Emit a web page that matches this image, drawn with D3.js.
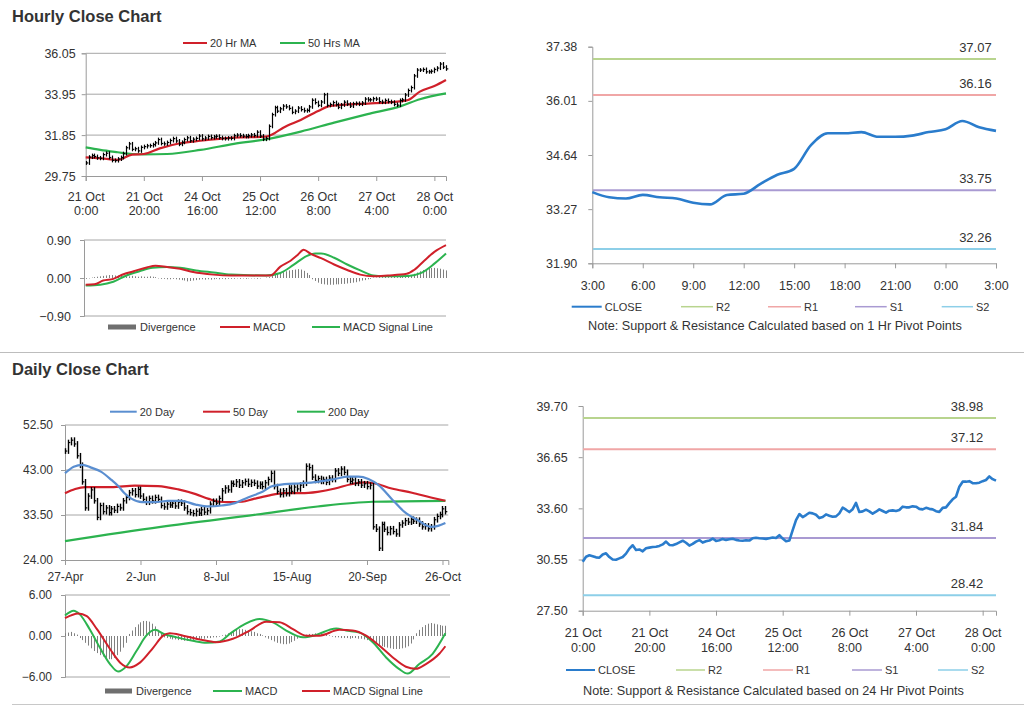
<!DOCTYPE html>
<html><head><meta charset="utf-8">
<script src="https://cdn.jsdelivr.net/npm/d3@7"></script>
<style>
body{margin:0;background:#fff}
svg{display:block}
text{font-family:"Liberation Sans",Arial,sans-serif;fill:#333}
</style>
</head><body>
<svg id="c" width="1024" height="706"></svg>
<script>
// ---------------- DATA ----------------
const hourTickLabels = [["21 Oct","0:00"],["21 Oct","20:00"],["24 Oct","16:00"],["25 Oct","12:00"],["26 Oct","8:00"],["27 Oct","4:00"],["28 Oct","0:00"]];
const hourlyClose = [
30.42,30.72,30.80,30.75,30.68,30.66,30.85,30.92,30.70,30.55,
30.54,30.62,30.70,30.90,31.20,31.40,31.12,31.15,31.04,31.22,
31.26,31.30,31.31,31.36,31.45,31.62,31.42,31.40,31.47,31.57,
31.67,31.55,31.38,31.48,31.62,31.71,31.56,31.64,31.68,31.80,
31.66,31.70,31.78,31.72,31.76,31.79,31.72,31.68,31.67,31.70,
31.68,31.82,31.85,31.82,31.80,31.78,31.82,31.86,31.83,32.00,
31.80,31.64,31.68,32.30,32.90,33.26,33.08,33.20,33.34,33.30,
33.22,33.02,33.08,33.24,33.16,33.10,33.12,33.30,33.64,33.52,
33.38,33.55,33.92,33.38,33.42,33.52,33.42,33.28,33.40,33.54,
33.44,33.34,33.46,33.48,33.44,33.50,33.70,33.66,33.66,33.72,
33.70,33.57,33.54,33.63,33.57,33.54,33.43,33.39,33.63,33.66,
33.91,34.14,34.29,34.89,35.19,35.19,35.22,35.10,35.10,35.13,
35.22,35.29,35.50,35.34,35.25];
// [hour index, value]
const ma20Hr = [[0,30.71],[5,30.66],[11,30.58],[16,30.85],[20,30.88],[25.5,31.17],[32.5,31.43],[39.5,31.56],[51,31.72],[62,31.77],[65,31.95],[68,32.23],[74,32.63],[80,33.09],[84,33.34],[91,33.43],[97,33.47],[108,33.58],[111,33.65],[115,34.08],[120,34.37],[124,34.68]];
const ma50Hr = [[0,31.22],[5,31.09],[11,30.97],[16,30.88],[20,30.86],[28,30.88],[39.5,31.09],[51,31.40],[62,31.63],[74,32.03],[85.5,32.49],[97,32.93],[108.5,33.34],[115,33.69],[124,33.99]];
const hourlyMacd = [[0,-0.16],[3,-0.15],[6,-0.06],[9.5,-0.02],[13,0.09],[16.5,0.16],[21,0.25],[24,0.29],[28,0.26],[32.5,0.22],[37,0.14],[44,0.08],[50,0.06],[56,0.06],[63.5,0.06],[67,0.27],[70.5,0.41],[73,0.55],[75,0.67],[77.5,0.57],[81,0.47],[85.5,0.32],[90,0.19],[94.5,0.08],[99,0.04],[104,0.06],[110.5,0.10],[113,0.19],[116.5,0.41],[120,0.62],[124,0.78]];
const hourlySignal = [[0,-0.18],[5,-0.16],[9.5,-0.09],[14,0.06],[18.5,0.16],[23,0.24],[28,0.26],[32.5,0.24],[38,0.18],[44,0.13],[50,0.08],[62,0.06],[67,0.12],[71.5,0.31],[76,0.52],[79,0.58],[81,0.58],[85.5,0.48],[90,0.32],[94.5,0.18],[99,0.06],[104,0.04],[111,0.05],[115.5,0.12],[120,0.34],[124,0.58]];
const hourlyDivergence = [
-0.02,-0.01,0.01,0.02,0.03,
0.04,0.05,0.06,0.07,0.07,0.06,0.06,0.05,
0.05,0.04,0.04,0.05,0.04,0.03,0.04,0.03,0.03,0.04,0.03,0.02,
-0.01,-0.02,-0.02,-0.03,-0.03,-0.02,-0.03,-0.04,-0.05,-0.06,
-0.08,-0.07,-0.06,-0.05,-0.04,-0.03,
-0.04,-0.03,-0.04,-0.03,-0.02,-0.03,-0.02,-0.03,-0.02,-0.02,-0.02,-0.01,-0.02,-0.01,-0.02,-0.01,-0.01,-0.01,-0.02,-0.01,0.00,0.01,0.02,
0.05,0.08,0.10,0.12,0.14,0.16,0.18,0.19,0.20,0.21,0.20,0.17,0.12,0.07,
-0.03,-0.07,-0.11,-0.14,-0.15,-0.16,-0.16,-0.16,-0.15,-0.15,-0.14,-0.14,-0.13,-0.12,-0.11,-0.10,-0.08,-0.06,-0.05,-0.03,-0.02,
0.01,0.01,0.02,0.02,0.03,0.02,0.02,0.03,0.02,0.03,0.03,0.04,
0.05,0.07,0.10,0.13,0.16,0.19,0.21,0.23,0.24,0.24,0.23,0.22,0.20,0.18];

const lastDayHourLabels = ["3:00","6:00","9:00","12:00","15:00","18:00","21:00","0:00","3:00"];
const pivotNames = ["R2","R1","S1","S2"];
const pivot1HrValues = [37.07,36.16,33.75,32.26];
const pivot24HrValues = [38.98,37.12,31.84,28.42];

const dailyTickLabels = ["27-Apr","2-Jun","8-Jul","15-Aug","20-Sep","26-Oct"];
const dailyClose = [
47.0,48.8,49.3,48.5,46.0,44.0,40.5,35.0,37.5,38.8,
36.5,33.0,35.5,34.2,35.0,34.0,34.8,34.5,35.3,35.0,
36.5,37.2,38.2,38.6,37.8,38.9,37.5,36.8,36.2,37.0,
36.5,37.2,36.8,35.5,35.2,35.8,35.6,36.0,35.4,36.2,
36.0,35.0,34.2,34.0,33.8,34.3,33.9,34.6,34.1,34.4,
35.8,36.4,36.0,37.0,38.6,39.2,38.8,40.2,40.0,40.5,
39.8,40.3,40.6,40.0,40.4,40.2,39.6,40.0,39.5,40.3,
41.0,42.3,39.5,38.5,37.8,38.6,38.0,39.2,38.5,39.4,
39.0,39.8,40.2,43.8,43.5,41.5,40.8,41.2,40.6,41.0,
40.4,41.3,41.0,42.8,42.3,43.2,42.5,41.0,40.6,40.9,
40.2,40.5,39.8,40.1,39.5,39.8,31.0,30.5,26.5,31.5,
30.5,29.8,30.6,30.0,29.5,31.4,31.8,32.3,32.0,32.6,
32.2,32.4,31.6,31.0,31.2,30.6,31.0,32.5,33.2,33.6,
34.8,34.2];
const ma20Day = [[0,42.3],[3,43.7],[6,44.1],[9,43.5],[12.5,42.6],[16,40.9],[18.5,39.5],[20.5,38.1],[23,36.9],[26.5,36.2],[31,36.2],[35.5,36.5],[40,36.5],[45,35.7],[49.5,35.3],[54,35.5],[58.5,36.0],[63,37.2],[66,37.9],[68,38.4],[71,39.5],[75.5,40.0],[81.5,40.2],[87,40.5],[93,41.1],[97.5,41.6],[101,41.6],[104.5,41.1],[108,39.8],[112.5,36.9],[117,34.1],[121.5,32.4],[126,31.0],[128.5,31.2],[131,31.8]];
const ma50Day = [[0,38.1],[3.5,39.0],[7,39.4],[16,39.4],[24,39.7],[32,39.6],[39,38.9],[45,37.9],[49.5,36.9],[53,36.3],[56,36.2],[61,36.3],[65,36.9],[70,37.6],[75.5,38.1],[81.5,38.1],[87,38.4],[93,39.1],[98.5,40.0],[103,40.4],[106.5,40.2],[112.5,39.1],[119.5,38.2],[126,37.2],[131,36.5]];
const ma200Day = [[0,28.0],[33,31.0],[66,33.6],[87,35.3],[106,36.3],[131,36.5]];
const dailyMacd = [[0,3.0],[3,3.7],[5,3.2],[8.5,1.0],[12,-1.7],[15.5,-4.1],[18.3,-5.2],[21.2,-4.4],[24.6,-2.2],[28,0.05],[31,0.9],[34,0.3],[38.5,-0.2],[44,-0.7],[48.7,-1.0],[53.3,-0.8],[56.7,0.3],[61.3,1.6],[67,2.5],[71.6,2.0],[76.2,0.8],[82,-0.2],[86.5,0.15],[91,0.9],[93.4,1.1],[96.8,0.8],[101.4,0.5],[106,-0.9],[110.5,-3.1],[115,-4.8],[118,-5.5],[122,-4.1],[126.6,-2.6],[131,0.4]];
const dailySignal = [[0,2.6],[4.6,3.3],[7.5,2.9],[11,1.0],[15.5,-1.9],[19,-3.9],[22.3,-4.6],[25.8,-3.9],[30.4,-1.7],[33.8,0.05],[36.1,0.4],[40.7,0.05],[46.4,-0.5],[52,-0.9],[57.8,-0.4],[63.6,0.8],[69.3,2.1],[73.9,2.0],[78.5,1.0],[83,0.05],[87.6,0.05],[94.5,0.9],[99,0.8],[103.7,0.05],[108.2,-1.4],[112.8,-3.1],[117.4,-4.5],[120.8,-4.8],[124.3,-4.1],[128.9,-2.6],[131,-1.5]];
const dailyDivergence = [
0.4,0.5,0.6,0.4,0.2,
-0.3,-0.6,-1.0,-1.4,-1.8,-2.2,-2.5,-2.8,-3.0,-3.2,-3.4,-3.4,-3.2,-2.8,-2.3,-1.7,-1.0,
0.3,0.8,1.3,1.7,2.0,2.2,2.2,2.1,1.8,1.4,0.9,0.4,
-0.2,-0.3,-0.4,-0.5,-0.5,-0.6,-0.6,-0.7,-0.7,-0.6,-0.6,-0.5,-0.5,-0.4,-0.4,-0.3,-0.3,-0.2,-0.2,-0.1,0.1,0.2,
0.4,0.6,0.8,0.9,1.0,1.0,0.9,0.8,0.7,0.6,0.4,0.3,0.1,
-0.2,-0.4,-0.6,-0.8,-1.0,-1.1,-1.2,-1.2,-1.1,-0.9,-0.7,-0.4,-0.2,
0.1,0.2,0.3,0.3,0.4,0.3,0.3,0.2,0.2,0.1,
-0.1,-0.2,-0.2,-0.3,-0.3,-0.3,-0.4,-0.3,-0.3,-0.4,-0.4,-0.5,-0.6,-0.7,
-0.9,-1.1,-1.3,-1.5,-1.6,-1.7,-1.8,-1.9,-1.9,-1.9,-1.8,-1.7,-1.5,-1.1,-0.5,
0.4,0.9,1.3,1.6,1.8,1.9,1.8,1.7,1.6,1.5,1.5];

const hourlyPriceTicks = [29.75,31.85,33.95,36.05];
const hourlyMacdTicks = [-0.90,0.00,0.90];
const pivot1HrTicks = [31.90,33.27,34.64,36.01,37.38];
const dailyPriceTicks = [24.00,33.50,43.00,52.50];
const dailyMacdTicks = [-6.00,0.00,6.00];
const pivot24HrTicks = [27.50,30.55,33.60,36.65,39.70];

// ---------------- STYLE ----------------
const C = {grid:"#a6a6a6", axis:"#9a9a9a", red:"#d0202a", green:"#2cb34f", blue:"#5a8ed0",
  close:"#2a7ccc", div:"#808080", R2:"#b8d48e", R1:"#f0a6a6", S1:"#a99ad2", S2:"#8dcfe8"};
const pivotColors = pivotNames.map(n => C[n]);
const fmt2 = d3.format(".2f");
const svg = d3.select("#c");

function leftAxis(y, ticks, x0, pad, fs){
  const g = svg.append("g").attr("transform",`translate(${x0},0)`)
    .call(d3.axisLeft(y).tickValues(ticks).tickSize(4).tickPadding(pad).tickFormat(fmt2));
  g.select(".domain").attr("stroke",C.axis);
  g.selectAll(".tick line").attr("stroke",C.axis);
  g.selectAll(".tick text").attr("fill","#333").style("font-size",fs+"px");
  return g;
}
function bottomAxis(x, tickVals, labels, y0, off1, off2, fs){
  const g = svg.append("g").attr("transform",`translate(0,${y0})`)
    .call(d3.axisBottom(x).tickValues(tickVals).tickSize(5).tickFormat(""));
  g.select(".domain").attr("stroke",C.axis);
  g.selectAll(".tick line").attr("stroke",C.axis);
  g.selectAll(".tick").each(function(d,i){
    const lab = labels[i];
    const t = d3.select(this).append("text").attr("text-anchor","middle").style("font-size",fs+"px").attr("fill","#333");
    if (Array.isArray(lab)){
      t.append("tspan").attr("x",0).attr("y",off1).text(lab[0]);
      t.append("tspan").attr("x",0).attr("y",off2).text(lab[1]);
    } else {
      t.attr("y",off1).text(lab);
    }
  });
  return g;
}
function grid(y, vals, x0, x1){
  svg.append("g").selectAll("line").data(vals).join("line")
    .attr("x1",x0).attr("x2",x1).attr("y1",d=>y(d)).attr("y2",d=>y(d))
    .attr("stroke",C.grid).attr("stroke-width",1);
}
function legendLine(x1,x2,y,color,label,w){
  svg.append("line").attr("x1",x1).attr("x2",x2).attr("y1",y).attr("y2",y).attr("stroke",color).attr("stroke-width",w||2);
  svg.append("text").attr("x",x2+3).attr("y",y).attr("dy","0.35em").style("font-size","11px").text(label);
}
function sampledLine(x, y, data, color, w){
  svg.append("path").datum(data)
    .attr("d", d3.line().x(d=>x(d[0])).y(d=>y(d[1])).curve(d3.curveMonotoneX))
    .attr("fill","none").attr("stroke",color).attr("stroke-width",w||2).attr("stroke-linejoin","round");
}
function priceBars(x, y, data, ext, w){
  const g = svg.append("g");
  data.forEach((c,i)=>{
    const prev = i>0 ? data[i-1] : c;
    const lo = Math.min(prev,c)-ext, hi = Math.max(prev,c)+ext;
    const xi = Math.round(x(i))+0.5;
    g.append("line").attr("x1",xi).attr("x2",xi).attr("y1",y(lo)).attr("y2",y(hi)).attr("stroke","#000").attr("stroke-width",w);
    g.append("line").attr("x1",xi).attr("x2",xi+1.8).attr("y1",y(c)).attr("y2",y(c)).attr("stroke","#000").attr("stroke-width",1.2);
  });
}
function divBars(x, y, data){
  svg.append("g").selectAll("line").data(data).join("line")
    .attr("x1",(d,i)=>Math.round(x(i))+0.5).attr("x2",(d,i)=>Math.round(x(i))+0.5)
    .attr("y1",y(0)).attr("y2",d=>y(d)).attr("stroke",C.div).attr("stroke-width",1);
}
function title(txt, y){
  svg.append("text").attr("x",12).attr("y",y).style("font-size","16.5px").style("font-weight","bold").attr("fill","#222").text(txt);
}
function legendBar(x1,x2,y,label){
  svg.append("rect").attr("x",x1).attr("y",y-2.5).attr("width",x2-x1).attr("height",5).attr("fill","#6f6f6f");
  svg.append("text").attr("x",x2+4).attr("y",y).attr("dy","0.35em").style("font-size","11px").text(label);
}

// separators
svg.append("line").attr("x1",0).attr("x2",1024).attr("y1",352.5).attr("y2",352.5).attr("stroke","#bdbdbd");
svg.append("line").attr("x1",12).attr("x2",1024).attr("y1",704.5).attr("y2",704.5).attr("stroke","#c8c8c8");

// ============ HOURLY (top-left) ============
title("Hourly Close Chart", 22);
const nH = hourlyClose.length;
const xH = d3.scaleLinear().domain([0,nH-1]).range([85.7,446]);
const hTickIdx = hourTickLabels.map((d,i)=>i*20);
const yHP = d3.scaleLinear().domain([29.75,36.05]).range([176,53.3]);
grid(yHP, hourlyPriceTicks.slice(1), 85.7, 446);
leftAxis(yHP, hourlyPriceTicks, 85.7, 6, 12.5);
bottomAxis(xH, hTickIdx, hourTickLabels, 176, 25, 39, 12.5);
sampledLine(xH, yHP, ma50Hr, C.green, 2.2);
sampledLine(xH, yHP, ma20Hr, C.red, 2.2);
priceBars(xH, yHP, hourlyClose, 0.1, 1.2);
legendLine(183,207,43,C.red,"20 Hr MA");
legendLine(280,305,43,C.green,"50 Hrs MA");

// hourly MACD
const yHM = d3.scaleLinear().domain([-0.9,0.9]).range([316,240]);
grid(yHM, [0.9,-0.9], 84, 446);
leftAxis(yHM, hourlyMacdTicks, 84, 9, 12.5);
divBars(xH, yHM, hourlyDivergence);
sampledLine(xH, yHM, hourlySignal, C.green, 2);
sampledLine(xH, yHM, hourlyMacd, C.red, 2);
legendBar(108,136,327,"Divergence");
legendLine(220,250,327,C.red,"MACD");
legendLine(312,340,327,C.green,"MACD Signal Line");

// ============ 1 HR PIVOT (top-right) ============
const lastDay = hourlyClose.slice(-25);
const xP1 = d3.scaleLinear().domain([0,lastDay.length-1]).range([592.3,996]);
const yP1 = d3.scaleLinear().domain([31.90,37.38]).range([263.3,46.7]);
leftAxis(yP1, pivot1HrTicks, 592.3, 11, 12.5);
bottomAxis(xP1, lastDayHourLabels.map((d,i)=>i*3), lastDayHourLabels, 263.3, 27, 0, 12.5);
pivot1HrValues.forEach((v,i)=>{
  svg.append("line").attr("x1",593).attr("x2",996).attr("y1",yP1(v)).attr("y2",yP1(v)).attr("stroke",pivotColors[i]).attr("stroke-width",2);
  svg.append("text").attr("x",991.7).attr("y",yP1(v)-7).attr("text-anchor","end").style("font-size","13px").text(fmt2(v));
});
svg.append("path").datum(lastDay).attr("d",d3.line().x((d,i)=>xP1(i)).y(d=>yP1(d)).curve(d3.curveMonotoneX))
  .attr("fill","none").attr("stroke",C.close).attr("stroke-width",2.6);
legendLine(571.7,601.7,306.7,C.close,"CLOSE");
pivotNames.forEach((n,i)=>{
  const xs = [[681,713],[768,801],[855,886.7],[941.7,973]][i];
  legendLine(xs[0],xs[1],306.7,pivotColors[i],n,1.5);
});
svg.append("text").attr("x",588).attr("y",326).attr("dy","0.35em").style("font-size","12.7px")
  .text("Note: Support & Resistance Calculated based on 1 Hr Pivot Points");

// ============ DAILY (bottom-left) ============
title("Daily Close Chart", 375);
const nD = dailyClose.length;
const xD = d3.scaleLinear().domain([0,nD]).range([65,448.3]);
const dTickIdx = dailyTickLabels.map((d,i)=>i*26);
const yDP = d3.scaleLinear().domain([24,52.5]).range([560,425]);
grid(yDP, dailyPriceTicks.slice(1), 65, 448.3);
leftAxis(yDP, dailyPriceTicks, 65, 8, 12);
bottomAxis(xD, dTickIdx, dailyTickLabels, 560, 21, 0, 12);
sampledLine(xD, yDP, ma200Day, C.green, 2.2);
sampledLine(xD, yDP, ma50Day, C.red, 2.2);
priceBars(xD, yDP, dailyClose, 0.6, 1.4);
sampledLine(xD, yDP, ma20Day, C.blue, 2.2);
legendLine(110,136.7,411.7,C.blue,"20 Day");
legendLine(203,230,411.7,C.red,"50 Day");
legendLine(297,325,411.7,C.green,"200 Day");

// daily MACD
const yDM = d3.scaleLinear().domain([-6,6]).range([677,595]);
grid(yDM, [6,-6], 65, 450);
leftAxis(yDM, dailyMacdTicks, 65, 9, 12);
divBars(xD, yDM, dailyDivergence);
sampledLine(xD, yDM, dailyMacd, C.green, 2);
sampledLine(xD, yDM, dailySignal, C.red, 2);
legendBar(105,132,691,"Divergence");
legendLine(213,242,691,C.green,"MACD");
legendLine(302,330,691,C.red,"MACD Signal Line");

// ============ 24 HR PIVOT (bottom-right) ============
const xP2 = d3.scaleLinear().domain([0,nH-1]).range([582.7,996]);
const yP2 = d3.scaleLinear().domain([27.5,39.7]).range([610.7,406]);
leftAxis(yP2, pivot24HrTicks, 582.7, 11, 12.5);
bottomAxis(xP2, hTickIdx, hourTickLabels, 610.7, 26.5, 41, 12.5);
pivot24HrValues.forEach((v,i)=>{
  svg.append("line").attr("x1",583).attr("x2",996).attr("y1",yP2(v)).attr("y2",yP2(v)).attr("stroke",pivotColors[i]).attr("stroke-width",2);
  svg.append("text").attr("x",983.3).attr("y",yP2(v)-7).attr("text-anchor","end").style("font-size","13px").text(fmt2(v));
});
svg.append("path").datum(hourlyClose).attr("d",d3.line().x((d,i)=>xP2(i)).y(d=>yP2(d)))
  .attr("fill","none").attr("stroke",C.close).attr("stroke-width",2.6).attr("stroke-linejoin","round");
legendLine(566,595,670,C.close,"CLOSE");
pivotNames.forEach((n,i)=>{
  const xs = [[676,705],[763,793],[852,882],[938,968]][i];
  legendLine(xs[0],xs[1],670,pivotColors[i],n,1.5);
});
svg.append("text").attr("x",583).attr("y",691).attr("dy","0.35em").style("font-size","12.7px")
  .text("Note: Support & Resistance Calculated based on 24 Hr Pivot Points");
</script>
</body></html>
